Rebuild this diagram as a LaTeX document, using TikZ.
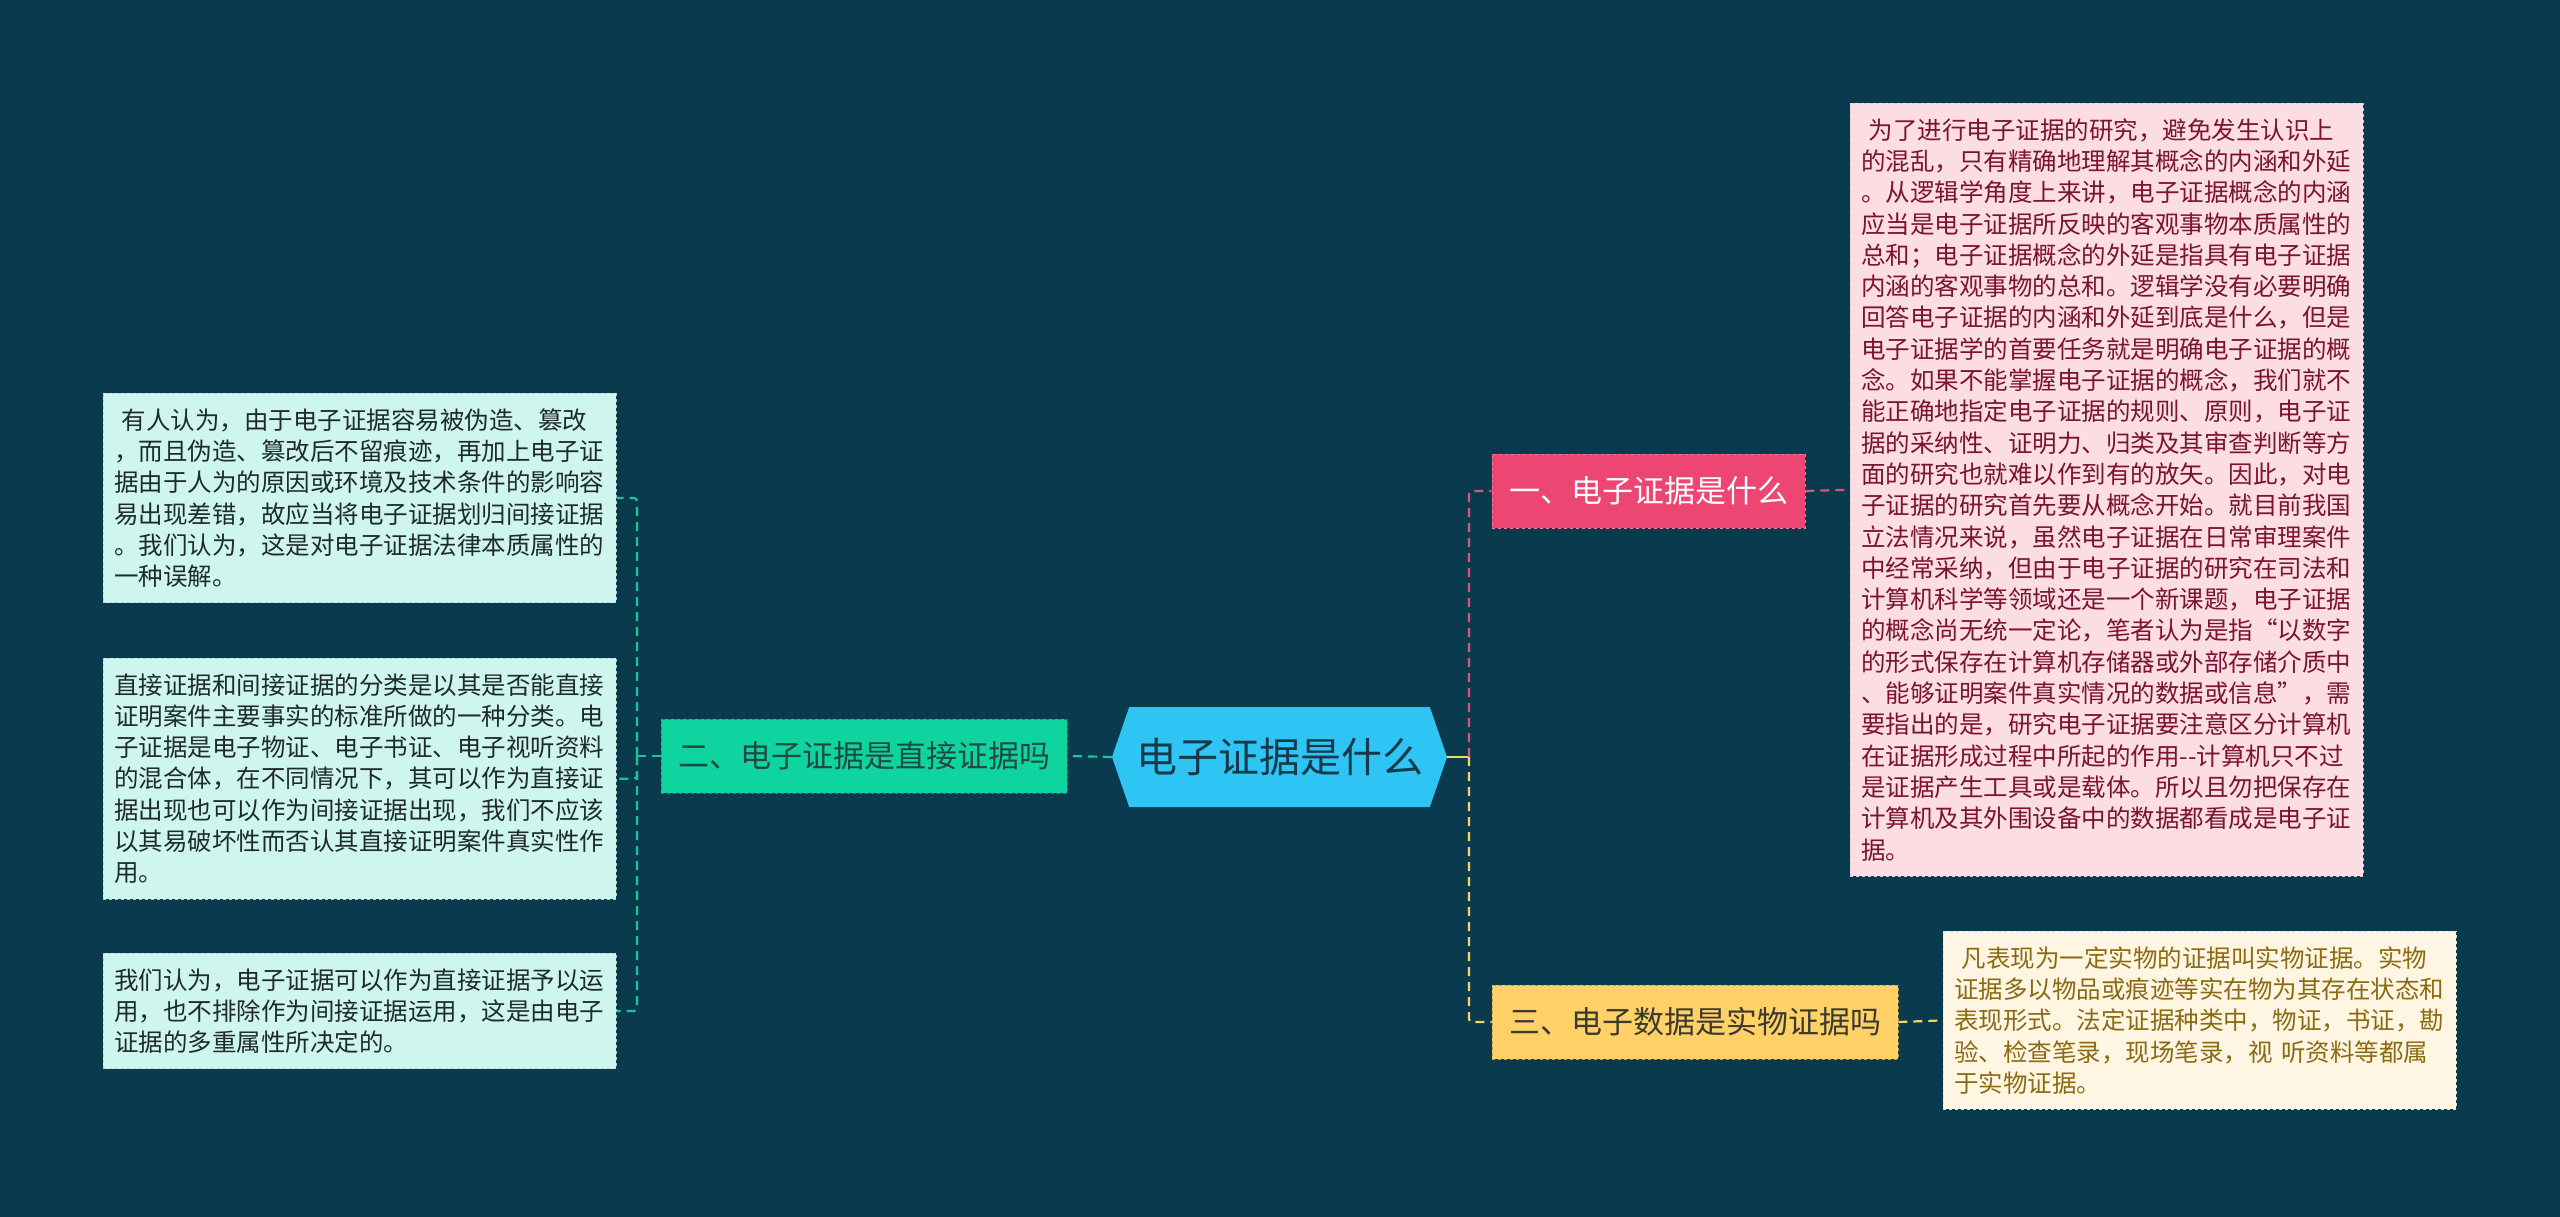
\documentclass[tikz,border=0pt]{standalone}
\usepackage{fontspec}
\newfontfamily\cjk{Noto Sans CJK SC}
\usetikzlibrary{shapes.symbols}
\definecolor{bgdark}{HTML}{093A4E}
\definecolor{rootfill}{HTML}{2EC4F4}
\definecolor{rootink}{HTML}{173A4A}
\definecolor{onefill}{HTML}{EE4673}
\definecolor{twofill}{HTML}{10D4A0}
\definecolor{twoink}{HTML}{1D4A44}
\definecolor{threefill}{HTML}{FFD167}
\definecolor{threeink}{HTML}{3B3A30}
\definecolor{pinkbox}{HTML}{FDDDE4}
\definecolor{pinkink}{HTML}{7B1331}
\definecolor{creambox}{HTML}{FEF6E3}
\definecolor{creamink}{HTML}{8C6A12}
\definecolor{mintbox}{HTML}{CFF6EE}
\definecolor{mintink}{HTML}{1F2B2B}
\definecolor{pinkline}{HTML}{D9557C}
\definecolor{goldline}{HTML}{F2D46B}
\definecolor{tealline}{HTML}{1CC49A}
\begin{document}
\begin{tikzpicture}[x=1pt,y=1pt,yscale=-1,
  rootnode/.style={shape=signal, signal to=west and east, signal pointer angle=142,
    fill=rootfill, text=rootink, minimum width=335pt, minimum height=100pt, inner sep=0pt,
    font=\cjk\fontsize{41}{41}\selectfont},
  topic/.style={draw, dashed, line width=0.8pt, minimum height=74pt, inner xsep=17pt,
    font=\cjk\fontsize{31}{31}\selectfont},
  notebox/.style={draw, dashed, line width=0.8pt, anchor=north west, text width=491pt,
    align=left, inner xsep=11pt, inner ysep=15pt, font=\cjk\fontsize{24.5}{31.3}\selectfont},
  link/.style={line width=2.2pt, dash pattern=on 9pt off 6pt, rounded corners=3pt}]
\useasboundingbox (0,0) rectangle (2560,1217);
\fill[bgdark] (0,0) rectangle (2560,1217);

\node[rootnode] (root) at (1279.5,757) {电子证据是什么};

\node[topic, fill=onefill, draw=onefill!70!white, text=white] (t1) at (1648.5,491) {一、电子证据是什么};
\node[topic, fill=twofill, draw=twofill!70!black, text=twoink] (t2) at (864,756) {二、电子证据是直接证据吗};
\node[topic, fill=threefill, draw=threefill!75!black, text=threeink] (t3) at (1695,1022) {三、电子数据是实物证据吗};

\node[notebox, fill=pinkbox, draw=pinkbox!80!gray, text=pinkink] (p1) at (1850,103) {\hspace*{0.3em}为了进行电子证据的研究，避免发生认识上\\
的混乱，只有精确地理解其概念的内涵和外延\\
。从逻辑学角度上来讲，电子证据概念的内涵\\
应当是电子证据所反映的客观事物本质属性的\\
总和；电子证据概念的外延是指具有电子证据\\
内涵的客观事物的总和。逻辑学没有必要明确\\
回答电子证据的内涵和外延到底是什么，但是\\
电子证据学的首要任务就是明确电子证据的概\\
念。如果不能掌握电子证据的概念，我们就不\\
能正确地指定电子证据的规则、原则，电子证\\
据的采纳性、证明力、归类及其审查判断等方\\
面的研究也就难以作到有的放矢。因此，对电\\
子证据的研究首先要从概念开始。就目前我国\\
立法情况来说，虽然电子证据在日常审理案件\\
中经常采纳，但由于电子证据的研究在司法和\\
计算机科学等领域还是一个新课题，电子证据\\
的概念尚无统一定论，笔者认为是指“以数字\\
的形式保存在计算机存储器或外部存储介质中\\
、能够证明案件真实情况的数据或信息”，需\\
要指出的是，研究电子证据要注意区分计算机\\
在证据形成过程中所起的作用-{}-计算机只不过\\
是证据产生工具或是载体。所以且勿把保存在\\
计算机及其外围设备中的数据都看成是电子证\\
据。};

\node[notebox, fill=creambox, draw=creambox!80!gray, text=creamink] (y1) at (1943,931) {\hspace*{0.3em}凡表现为一定实物的证据叫实物证据。实物\\
证据多以物品或痕迹等实在物为其存在状态和\\
表现形式。法定证据种类中，物证，书证，勘\\
验、检查笔录，现场笔录，视 听资料等都属\\
于实物证据。};

\node[notebox, fill=mintbox, draw=mintbox!70!gray, text=mintink] (g1) at (103,393) {\hspace*{0.3em}有人认为，由于电子证据容易被伪造、篡改\\
，而且伪造、篡改后不留痕迹，再加上电子证\\
据由于人为的原因或环境及技术条件的影响容\\
易出现差错，故应当将电子证据划归间接证据\\
。我们认为，这是对电子证据法律本质属性的\\
一种误解。};
\node[notebox, fill=mintbox, draw=mintbox!70!gray, text=mintink] (g2) at (103,658) {直接证据和间接证据的分类是以其是否能直接\\
证明案件主要事实的标准所做的一种分类。电\\
子证据是电子物证、电子书证、电子视听资料\\
的混合体，在不同情况下，其可以作为直接证\\
据出现也可以作为间接证据出现，我们不应该\\
以其易破坏性而否认其直接证明案件真实性作\\
用。};
\node[notebox, fill=mintbox, draw=mintbox!70!gray, text=mintink] (g3) at (103,953) {我们认为，电子证据可以作为直接证据予以运\\
用，也不排除作为间接证据运用，这是由电子\\
证据的多重属性所决定的。};

\coordinate (rfork) at (1469,757);
\coordinate (lfork) at (637,756);
\draw[goldline, line width=2.2pt] (root.east) -- (rfork);
\draw[link, pinkline] (rfork) |- (t1.west);
\draw[link, goldline] (rfork) |- (t3.west);
\draw[link, pinkline] (t1.east) -- (p1.west);
\draw[link, goldline] (t3.east) -- (y1.west);
\draw[link, tealline] (root.west) -- (t2.east);
\draw[link, tealline] (t2.west) -- (lfork);
\draw[link, tealline] (lfork) |- (g1.east);
\draw[link, tealline] (lfork) |- (g2.east);
\draw[link, tealline] (lfork) |- (g3.east);
\end{tikzpicture}
\end{document}
